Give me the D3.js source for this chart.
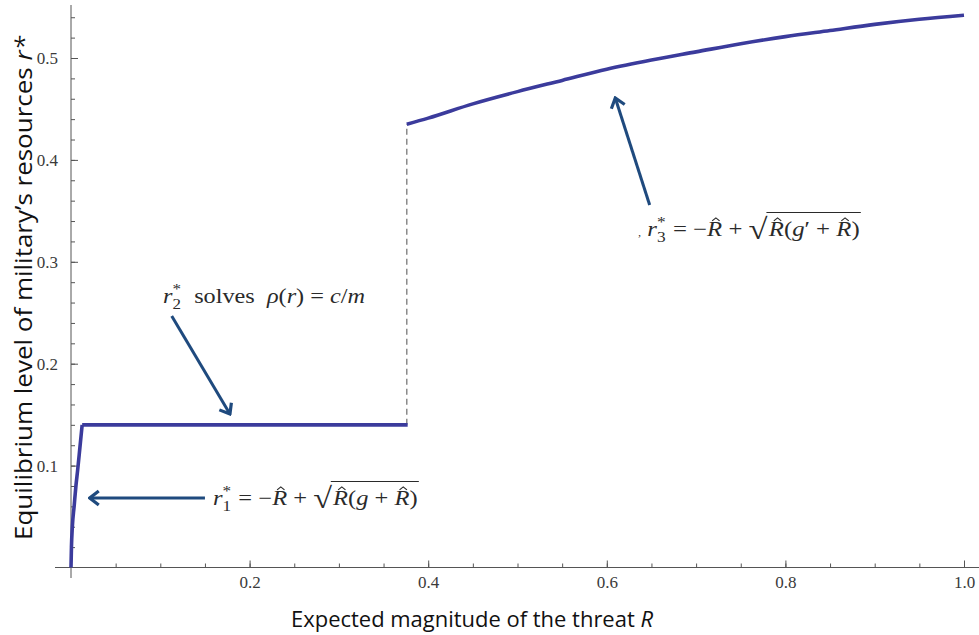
<!DOCTYPE html>
<html>
<head>
<meta charset="utf-8">
<script src="https://cdn.jsdelivr.net/npm/d3@7"></script>
<style>
  body { margin: 0; background: #fff; }
  svg { display: block; }
  text.m { white-space: pre; }
</style>
</head>
<body>
<svg id="chart" width="979" height="635"></svg>
<script>
var r1X = [0, 0.0005, 0.0015, 0.0035, 0.0055, 0.0075, 0.0100, 0.0125];
var r1Y = [0, 0.020, 0.040, 0.060, 0.080, 0.096, 0.118, 0.140];
var r2X = [0.0125, 0.377];
var r2Y = [0.140, 0.140];
var r3X = [0.376, 0.40, 0.45, 0.50, 0.55, 0.60, 0.65, 0.70, 0.75, 0.80, 0.85, 0.90, 0.95, 1.0];
var r3Y = [0.435, 0.441, 0.455, 0.467, 0.478, 0.489, 0.498, 0.506, 0.514, 0.521, 0.527, 0.533, 0.538, 0.542];
var jumpX = 0.376;
var jumpY = [0.140, 0.435];
var xTicks = [0.2, 0.4, 0.6, 0.8, 1.0];
var xMinor = d3.range(1, 21).map(function(i){ return i * 0.05; });
var yTicks = [0.1, 0.2, 0.3, 0.4, 0.5];
var yMinor = d3.range(1, 28).map(function(i){ return i * 0.02; });

var svg = d3.select("#chart");
var x = d3.scaleLinear().domain([0, 1]).range([71, 964]);
var y = d3.scaleLinear().domain([0, 0.5]).range([567.5, 58]);

var axisColor = "#555";
var curveColor = "#3b3b9c";
var arrowColor = "#1f4a7e";
var mathColor = "#2a2a2a";

// axes
svg.append("line").attr("x1", 55).attr("x2", 979).attr("y1", y(0)).attr("y2", y(0))
  .attr("stroke", axisColor).attr("stroke-width", 1);
svg.append("line").attr("x1", x(0)).attr("x2", x(0)).attr("y1", 5).attr("y2", 578)
  .attr("stroke", axisColor).attr("stroke-width", 1);

var xMinorAxis = d3.axisBottom(x).tickValues(xMinor).tickSizeInner(-4).tickSizeOuter(0).tickFormat("");
var xAxis = d3.axisBottom(x).tickValues(xTicks).tickSizeInner(-7).tickSizeOuter(0).tickPadding(8)
  .tickFormat(d3.format(".1f"));
var yMinorAxis = d3.axisLeft(y).tickValues(yMinor).tickSizeInner(-4).tickSizeOuter(0).tickFormat("");
var yAxis = d3.axisLeft(y).tickValues(yTicks).tickSizeInner(-7).tickSizeOuter(0).tickPadding(13)
  .tickFormat(d3.format(".1f"));

function styleAxis(g){
  g.select(".domain").remove();
  g.selectAll(".tick line").attr("stroke", axisColor);
  g.selectAll(".tick text").attr("fill", "#3a3a3a")
    .style("font-family", "'Liberation Serif', 'DejaVu Serif', serif").style("font-size", "17px");
}
svg.append("g").attr("transform", "translate(0," + y(0) + ")").call(xMinorAxis).call(styleAxis);
svg.append("g").attr("transform", "translate(0," + y(0) + ")").call(xAxis).call(styleAxis);
svg.append("g").attr("transform", "translate(" + x(0) + ",0)").call(yMinorAxis).call(styleAxis);
svg.append("g").attr("transform", "translate(" + x(0) + ",0)").call(yAxis).call(styleAxis);

// axis titles
svg.append("text")
  .attr("x", 472).attr("y", 627).attr("text-anchor", "middle")
  .attr("textLength", 362).attr("lengthAdjust", "spacingAndGlyphs")
  .style("font-family", "'Open Sans', 'Noto Sans', sans-serif").style("font-size", "21px").attr("fill", "#111")
  .html("Expected magnitude of the threat <tspan font-style='italic'>R</tspan>");
svg.append("text")
  .attr("transform", "translate(32,288) rotate(-90)").attr("text-anchor", "middle")
  .attr("textLength", 504).attr("lengthAdjust", "spacingAndGlyphs")
  .style("font-family", "'Open Sans', 'Noto Sans', sans-serif").style("font-size", "23px").attr("fill", "#111")
  .html("Equilibrium level of military’s resources <tspan font-style='italic'>r*</tspan>");

// curves
var line = d3.line().x(function(d){ return x(d[0]); }).y(function(d){ return y(d[1]); })
  .curve(d3.curveMonotoneX);
svg.append("line")
  .attr("x1", x(jumpX)).attr("x2", x(jumpX)).attr("y1", y(jumpY[0])).attr("y2", y(jumpY[1]))
  .attr("stroke", "#8a8a8a").attr("stroke-width", 1.5).attr("stroke-dasharray", "6,4");

[[r1X, r1Y], [r2X, r2Y], [r3X, r3Y]].forEach(function(s){
  var pts = s[0].map(function(v, i){ return [v, s[1][i]]; });
  svg.append("path").datum(pts).attr("d", line)
    .attr("fill", "none").attr("stroke", curveColor).attr("stroke-width", 3.6)
    .attr("stroke-linejoin", "miter");
});

// arrows
var defs = svg.append("defs");
defs.append("marker").attr("id", "head").attr("markerUnits", "userSpaceOnUse")
  .attr("viewBox", "-12 -10 14 20").attr("markerWidth", 14).attr("markerHeight", 20)
  .attr("refX", 0).attr("refY", 0).attr("orient", "auto")
  .append("path").attr("d", "M-9,-7 L0,0 L-9,7")
  .attr("fill", "none").attr("stroke", arrowColor).attr("stroke-width", 3.2)
  .attr("stroke-linejoin", "miter").attr("stroke-linecap", "butt");

var arrows = [
  { from: [0.150, 0.0682], to: [0.021, 0.0682] },
  { from: [0.1128, 0.2468], to: [0.178, 0.1506] },
  { from: [0.648, 0.3557], to: [0.6095, 0.4607] }
];
arrows.forEach(function(a){
  svg.append("line")
    .attr("x1", x(a.from[0])).attr("y1", y(a.from[1]))
    .attr("x2", x(a.to[0])).attr("y2", y(a.to[1]))
    .attr("stroke", arrowColor).attr("stroke-width", 3)
    .attr("marker-end", "url(#head)");
});

// math labels
var mathFont = "'Liberation Serif', 'DejaVu Serif', serif";
function piece(g, cx, by, fs, it){
  var t = g.append("text").attr("class", "m").attr("x", cx).attr("y", by + (it.dy || 0) * fs)
    .attr("xml:space", "preserve")
    .style("font-family", mathFont).style("font-size", (fs * (it.size || 1)) + "px")
    .style("font-style", it.italic ? "italic" : "normal")
    .attr("fill", mathColor).text(it.t);
  var w = t.node().getComputedTextLength();
  if (it.hat) {
    var hx = cx + w * 0.58, hy = by - fs * 0.72;
    g.append("path")
      .attr("d", "M" + (hx - fs * 0.15) + "," + hy + " L" + hx + "," + (hy - fs * 0.14) + " L" + (hx + fs * 0.15) + "," + hy)
      .attr("fill", "none").attr("stroke", mathColor).attr("stroke-width", 1);
  }
  return w;
}
function mathText(g, cx, by, fs, items){
  items.forEach(function(it){
    if (it.sqrt) {
      var w0 = piece(g, cx, by + fs * 0.14, fs, { t: "√", size: 1.4 });
      var sx = cx + w0 - 1;
      var inner = mathText(g, cx + w0 + 1, by, fs, it.sqrt);
      g.append("line").attr("x1", sx).attr("x2", inner + 1)
        .attr("y1", by - fs * 1.12).attr("y2", by - fs * 1.12)
        .attr("stroke", mathColor).attr("stroke-width", 1);
      cx = inner + 2;
    } else if (it.stack) {
      var wa = piece(g, cx, by + fs * 0.28, fs, { t: it.stack[0], size: 0.7 });
      var wb = piece(g, cx, by - fs * 0.42, fs, { t: it.stack[1], size: 0.7 });
      cx += Math.max(wa, wb) + 1;
    } else {
      cx += piece(g, cx, by, fs, it);
    }
  });
  return cx;
}
// draw a formula and stretch it to the width it has in the picture
function formula(x0, x1, by, fs, items){
  var g = svg.append("g");
  var inner = g.append("g");
  var end = mathText(inner, x0, by, fs, items);
  var k = (x1 - x0) / (end - x0);
  inner.attr("transform", "translate(" + x0 + ",0) scale(" + k + ",1) translate(" + (-x0) + ",0)");
}

var fs = 21;
formula(x(0.159), 420, y(0.0613), fs, [
  { t: "r", italic: true }, { stack: ["1", "*"] }, { t: " = −" }, { t: "R", italic: true, hat: true }, { t: " + " },
  { sqrt: [{ t: "R", italic: true, hat: true }, { t: "(" }, { t: "g", italic: true }, { t: " + " },
           { t: "R", italic: true, hat: true }, { t: ")" }] }
]);
formula(x(0.103), 365, y(0.2596), fs, [
  { t: "r", italic: true }, { stack: ["2", "*"] }, { t: "  solves  " }, { t: "ρ", italic: true }, { t: "(" },
  { t: "r", italic: true }, { t: ") = " }, { t: "c", italic: true }, { t: "/" }, { t: "m", italic: true }
]);
formula(x(0.635), 862, y(0.3253), fs, [
  { t: ",  ", size: 0.5 }, { t: "r", italic: true }, { stack: ["3", "*"] }, { t: " = −" }, { t: "R", italic: true, hat: true }, { t: " + " },
  { sqrt: [{ t: "R", italic: true, hat: true }, { t: "(" }, { t: "g", italic: true }, { t: "′" }, { t: " + " },
           { t: "R", italic: true, hat: true }, { t: ")" }] }
]);
</script>
</body>
</html>
